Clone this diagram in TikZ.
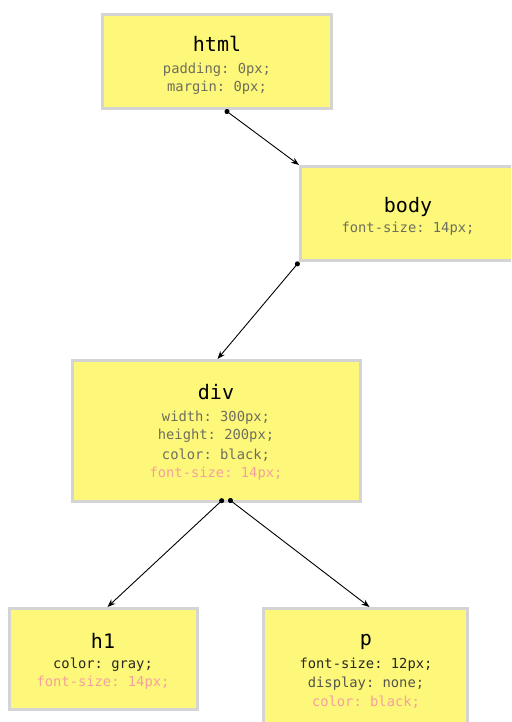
\documentclass[tikz,border=0pt]{standalone}
\usepackage{fontspec}
\setmonofont{DejaVu Sans Mono}
\usetikzlibrary{arrows.meta}
\definecolor{boxfill}{RGB}{253,248,122}
\definecolor{boxline}{RGB}{212,212,212}
\definecolor{proptext}{RGB}{110,110,95}
\definecolor{inherit}{RGB}{245,160,160}
\definecolor{darkprop}{RGB}{40,40,30}
\definecolor{midprop}{RGB}{85,85,75}
\begin{document}
\begin{tikzpicture}[x=1pt,y=-1pt,
  cssbox/.style={draw=boxline,line width=3pt,fill=boxfill,inner sep=0pt,anchor=north west},
  ttl/.style={font=\ttfamily\fontsize{20}{23}\selectfont,inner sep=0pt,text=black,anchor=center},
  prop/.style={font=\ttfamily\fontsize{13.8}{16}\selectfont,inner sep=0pt,text=proptext,anchor=center},
  inh/.style={prop,text=inherit},
  darkp/.style={prop,text=darkprop},
  midp/.style={prop,text=midprop},
  link/.style={{Circle[length=5pt]}-{Stealth[length=8pt,width=6pt]},line width=0.9pt,draw=black}
]
\useasboundingbox (0,0) rectangle (511,722);
\clip (0,0) rectangle (511,722);
% boxes
\node[cssbox,minimum width=229pt,minimum height=94pt] (html) at (101,13) {};
\node[cssbox,minimum width=215pt,minimum height=94pt] (body) at (299,165) {};
\node[cssbox,minimum width=288pt,minimum height=141pt] (div) at (71,359) {};
\node[cssbox,minimum width=188pt,minimum height=101pt] (h1) at (8,607) {};
\node[cssbox,minimum width=204pt,minimum height=130pt] (p) at (262,607) {};
% html text
\node[ttl] (htmlt) at (217,44) {html};
\node[prop] (htmlp1) at (217,70) {padding: 0px;};
\node[prop] (htmlp2) at (217,88) {margin: 0px;};
% body text
\node[ttl] (bodyt) at (408,207) {body};
\node[prop] (bodyp1) at (408,229) {font-size: 14px;};
% div text
\node[ttl] (divt) at (216,392) {div};
\node[prop] (divp1) at (216,418) {width: 300px;};
\node[prop] (divp2) at (216,436) {height: 200px;};
\node[prop] (divp3) at (216,455) {color: black;};
\node[inh] (divp4) at (216,474) {font-size: 14px;};
% h1 text
\node[ttl] (h1t) at (103,641) {h1};
\node[darkp] (h1p1) at (103,665) {color: gray;};
\node[inh] (h1p2) at (103,683) {font-size: 14px;};
% p text
\node[ttl] (pt) at (366,642) {p};
\node[darkp] (pp1) at (366,665) {font-size: 12px;};
\node[midp] (pp2) at (366,684) {display: none;};
\node[inh] (pp3) at (366,702) {color: black;};
% connectors
\draw[link] ([xshift=8pt]html.south) -- (body.north west);
\draw[link] (body.south west) -- ([xshift=1pt]div.north);
\draw[link] ([xshift=7pt,yshift=4pt]div.south) -- ([xshift=4pt]h1.north);
\draw[link] ([xshift=12pt,yshift=4pt]div.south) -- ([xshift=4pt]p.north);
\end{tikzpicture}
\end{document}
